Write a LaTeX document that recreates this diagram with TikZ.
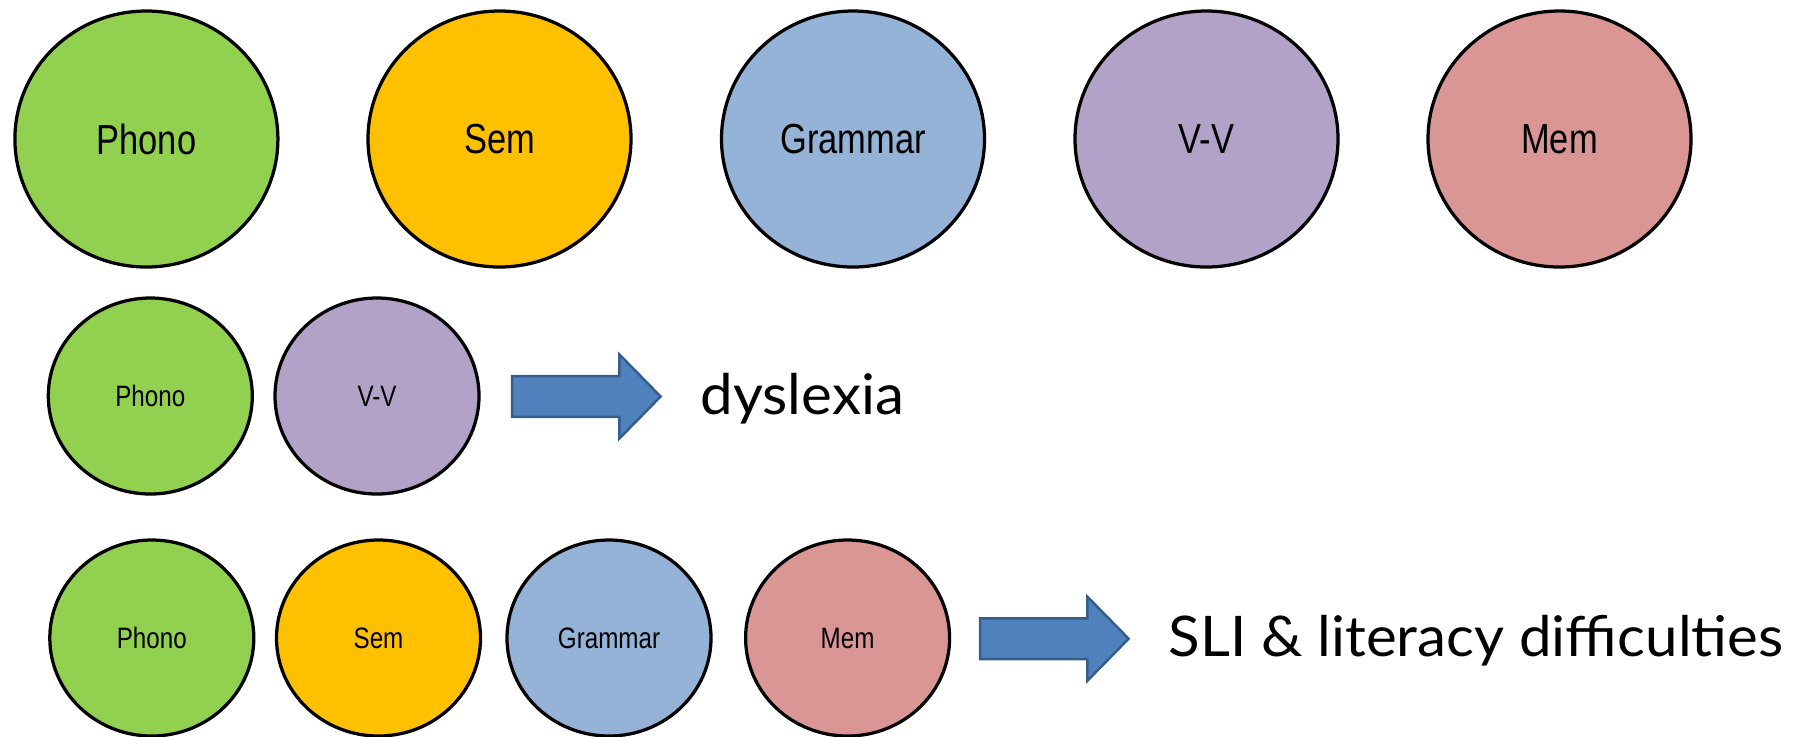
\documentclass[tikz,border=0pt]{standalone}
\usepackage{fontspec}
\setmainfont{Liberation Sans}
\newfontfamily\narrowsans[FakeStretch=0.82]{Liberation Sans}
\newfontfamily\humanist[FakeStretch=1.04]{Lato}
\usetikzlibrary{shapes.geometric}

\definecolor{phonoC}{HTML}{92D050}
\definecolor{semC}{HTML}{FFC000}
\definecolor{gramC}{HTML}{95B3D7}
\definecolor{vvC}{HTML}{B3A2C7}
\definecolor{memC}{HTML}{D99694}
\definecolor{arrowFill}{HTML}{4F81BD}
\definecolor{arrowLine}{HTML}{385D8A}

\tikzset{
  bubble/.style={ellipse, draw=black, line width=1.3pt, inner sep=0pt},
  bigbubble/.style={bubble, minimum width=105.2pt, minimum height=102.4pt,
    font=\narrowsans\fontsize{16.8pt}{18pt}\selectfont},
  smallbubble/.style={bubble, minimum width=81.6pt, minimum height=78.4pt,
    font=\narrowsans\fontsize{11.8pt}{13pt}\selectfont},
  blockarrow/.style={fill=arrowFill, draw=arrowLine, line width=1pt, line join=miter},
  outcome/.style={anchor=base west, inner sep=0pt,
    font=\humanist\fontsize{22.4pt}{24pt}\selectfont}
}

% block arrow starting at the middle of its tail
\newcommand\fatarrow[1]{%
  \filldraw[blockarrow] (#1) ++(0,-20.35) -- ++(107.4,0) -- ++(0,-21.65)
    -- ++(41.2,42) -- ++(-41.2,42) -- ++(0,-21.65) -- ++(-107.4,0) -- cycle;}

\begin{document}
\begin{tikzpicture}[x=0.4pt, y=-0.4pt]
  \useasboundingbox (0,0) rectangle (1805,736);

  % the five components
  \node[bigbubble, fill=phonoC] (phono) at (146.4,139) {Phono};
  \node[bigbubble, fill=semC]   (sem)   at (499.5,139) {Sem};
  \node[bigbubble, fill=gramC]  (gram)  at (853,139)   {Grammar};
  \node[bigbubble, fill=vvC]    (vv)    at (1206.5,139){V-V};
  \node[bigbubble, fill=memC]   (mem)   at (1559.5,139){Mem};

  % dyslexia profile
  \node[smallbubble, fill=phonoC] (dphono) at (150.3,396) {Phono};
  \node[smallbubble, fill=vvC]    (dvv)    at (377,396)   {V-V};
  \coordinate (darrow) at (512,396.5);
  \fatarrow{darrow}
  \node[outcome] (dys) at (700,414) {dyslexia};

  % SLI profile
  \node[smallbubble, fill=phonoC] (sphono) at (151.8,638) {Phono};
  \node[smallbubble, fill=semC]   (ssem)   at (378.5,638) {Sem};
  \node[smallbubble, fill=gramC]  (sgram)  at (609,638)   {Grammar};
  \node[smallbubble, fill=memC]   (smem)   at (847.6,638) {Mem};
  \coordinate (sarrow) at (980,638.7);
  \fatarrow{sarrow}
  \node[outcome] (sli) at (1168,656) {SLI \& literacy difficulties};
\end{tikzpicture}
\end{document}
